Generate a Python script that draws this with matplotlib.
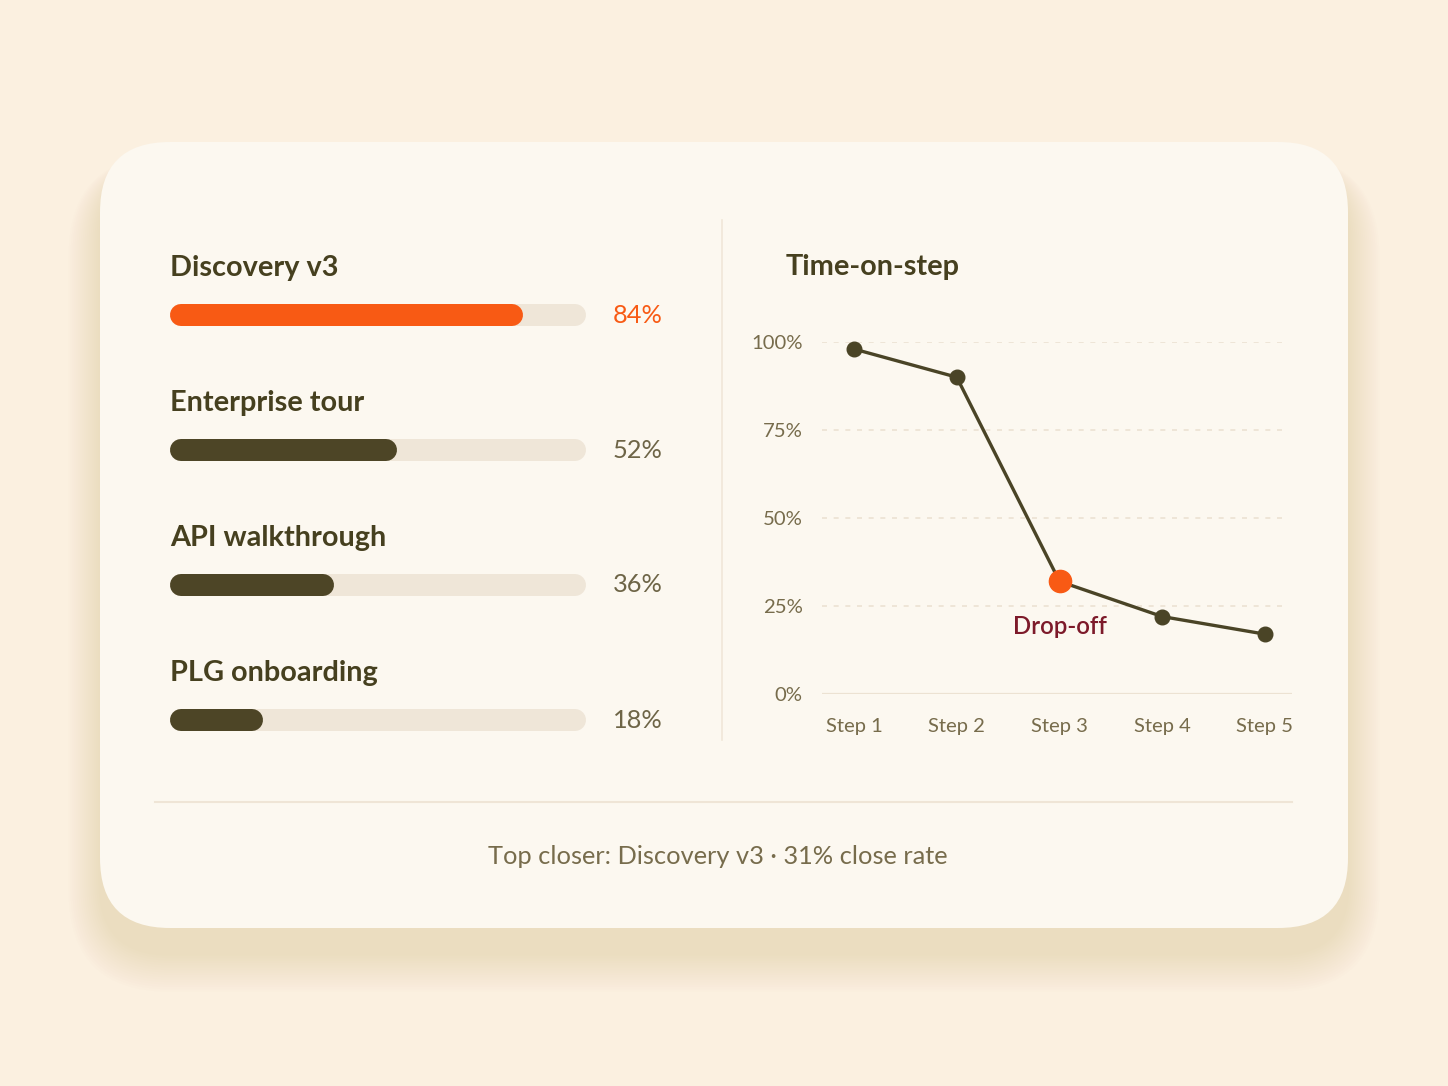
import matplotlib
matplotlib.use("Agg")
import matplotlib.pyplot as plt
from matplotlib.patches import FancyBboxPatch
import numpy as np

plt.rcParams['font.family'] = ['Lato', 'DejaVu Sans']

# data
tours = ["Discovery v3", "Enterprise tour", "API walkthrough", "PLG onboarding"]
tour_pct = [84, 52, 36, 18]
steps = ["Step 1", "Step 2", "Step 3", "Step 4", "Step 5"]
step_pct = [98, 90, 32, 22, 17]
y_ticks = [0, 25, 50, 75, 100]
drop_idx = 2
footer = "Top closer: Discovery v3 \u00b7 31% close rate"

# colours
BG = '#FBF0E0'
CARD = '#FCF8F0'
DARK = '#46401F'
BAR_DARK = '#4D4526'
ORANGE = '#F85A14'
TRACK = '#EFE6D8'
MUTED = '#776C4C'
GRID = '#ECE2D2'
MAROON = '#7D1A2A'

W, H = 1448, 1086
fig = plt.figure(figsize=(W / 100, H / 100), dpi=100, facecolor=BG)

# card + soft shadow
ax0 = fig.add_axes([0, 0, 1, 1])
ax0.set_xlim(0, W)
ax0.set_ylim(H, 0)
ax0.axis('off')
for k in range(16):
    grow = 3 + k * 4
    sh = FancyBboxPatch((100 - grow * 0.5, 142 + 26 - grow * 0.2), 1248 + grow * 1.0, 786 + grow * 0.8,
                        boxstyle="round,pad=0,rounding_size=%d" % (70 + grow * 0.5),
                        fc='#D8B888', ec='none', alpha=0.02)
    ax0.add_patch(sh)
card = FancyBboxPatch((100, 142), 1248, 786, boxstyle="round,pad=0,rounding_size=70",
                      fc=CARD, ec='none')
ax0.add_patch(card)
ax0.plot([722, 722], [220, 740], color='#F0E7D9', lw=1.2)
ax0.plot([155, 1292], [802, 802], color='#EFE5D6', lw=1.5)
ax0.text(718, 857, footer, ha='center', va='center', fontsize=18.3, color=MUTED)
ax0.text(786, 267, "Time-on-step", ha='left', va='center', fontsize=20.8,
         fontweight='bold', color=DARK)

# left: progress bars
row_px = 135
axb = fig.add_axes([181 / W, 1 - (315 + row_px * 3.5) / H, 394 / W, row_px * 4 / H])
axb.set_xlim(0, 100)
axb.set_ylim(3.5, -0.5)
axb.axis('off')
bar_lw = 22 * 0.72
for i, (name, v) in enumerate(zip(tours, tour_pct)):
    col = ORANGE if i == 0 else BAR_DARK
    vcol = ORANGE if i == 0 else '#6E6547'
    axb.plot([0, 100], [i, i], color=TRACK, lw=bar_lw, solid_capstyle='round', clip_on=False)
    axb.plot([0, v], [i, i], color=col, lw=bar_lw, solid_capstyle='round', clip_on=False)
    axb.annotate(name, xy=(0, i), xytext=(-11, 47), textcoords='offset pixels',
                 ha='left', va='center', fontsize=20.8, fontweight='bold', color=DARK)
    axb.annotate("%d%%" % v, xy=(100, i), xytext=(38, 0), textcoords='offset pixels',
                 ha='left', va='center', fontsize=18.3, color=vcol)

# right: line chart
x = np.arange(len(steps))
px_per = (1265 - 854) / 4
x_left = -(854 - 822) / px_per
x_right = 4 + (1292 - 1265) / px_per
axl = fig.add_axes([822 / W, 1 - 694 / H, (1292 - 822) / W, (694 - 342) / H])
axl.set_facecolor('none')
axl.set_xlim(x_left, x_right)
axl.set_ylim(0, 100)
for s in axl.spines.values():
    s.set_visible(False)
grid_end = 4 + (1283 - 1265) / px_per
for t in y_ticks[1:]:
    axl.plot([x_left, grid_end], [t, t], color=GRID, lw=1.2, ls=(0, (3, 4)), zorder=1)
axl.plot([x_left, x_right], [0, 0], color=GRID, lw=1.6, zorder=1)

axl.plot(x, step_pct, color='#4A4426', lw=2.4, zorder=3, clip_on=False)
others = [j for j in x if j != drop_idx]
axl.plot(others, [step_pct[j] for j in others], 'o', color='#4A4426', ms=10.5, zorder=4, clip_on=False)
axl.plot([drop_idx], [step_pct[drop_idx]], 'o', color=ORANGE, ms=16, zorder=5, clip_on=False)
axl.annotate("Drop-off", xy=(drop_idx, step_pct[drop_idx]), xytext=(0, -45),
             textcoords='offset pixels', ha='center', va='center', fontsize=17.3,
             fontweight='semibold', color=MAROON)

axl.set_yticks(y_ticks)
axl.set_yticklabels(["%d%%" % t for t in y_ticks])
axl.set_xticks(x)
axl.set_xticklabels(steps)
axl.tick_params(length=0, labelsize=14.6, labelcolor=MUTED)
axl.tick_params(axis='y', pad=14)
axl.tick_params(axis='x', pad=17)

fig.savefig('out.png', dpi=100, facecolor=BG)
